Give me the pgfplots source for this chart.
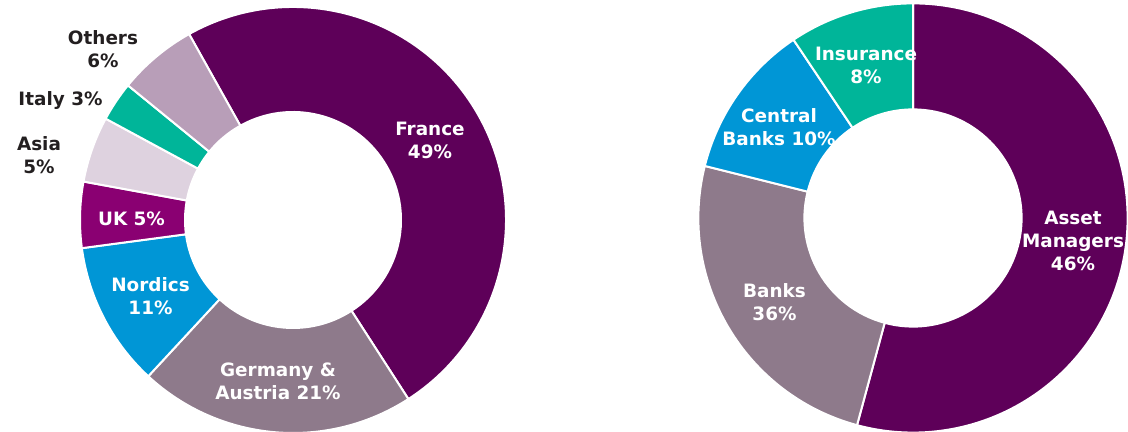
\documentclass[border=0pt]{standalone}
\usepackage{pgfplots}
\pgfplotsset{compat=1.18}
\usepackage{fontspec}
\setmainfont{DejaVu Sans}
\usetikzlibrary{calc}
\definecolor{cFrance}{RGB}{94,0,89}
\definecolor{cGerm}{RGB}{142,122,139}
\definecolor{cNord}{RGB}{0,150,214}
\definecolor{cUK}{RGB}{138,0,114}
\definecolor{cAsia}{RGB}{222,210,223}
\definecolor{cItaly}{RGB}{0,181,153}
\definecolor{cOther}{RGB}{184,158,184}
\definecolor{cText}{RGB}{35,31,32}
% donut: #1 centre coordinate, #2 outer radius, #3 inner radius,
% #4 start angle (clockwise from 12 o'clock), #5 list value/colour (percent)
\newcommand\donut[5]{%
  \pgfmathsetmacro\cur{90-#4}\xdef\cur{\cur}%
  \foreach \v/\c in {#5} {%
    \pgfmathsetmacro\nxt{\cur-\v*3.6}%
    \fill[\c, draw=white, line width=1pt]
      ($(#1)+(\cur:#2)$) arc[start angle=\cur, end angle=\nxt, radius=#2]
      -- ($(#1)+(\nxt:#3)$) arc[start angle=\nxt, end angle=\cur, radius=#3] -- cycle;
    \xdef\cur{\nxt}%
  }%
}
\begin{document}
\begin{tikzpicture}[font=\fontsize{9.2}{11.5}\selectfont\bfseries]
\begin{axis}[width=564pt, height=216pt, scale only axis, hide axis, clip=false,
  xmin=0, xmax=1128, ymin=0, ymax=432]
  \coordinate (L) at (axis cs:293,212);
  \coordinate (R) at (axis cs:913,214);
  \addplot[draw=none] coordinates {(0,0) (1128,432)};
\end{axis}
% left donut: France, Germany & Austria, Nordics, UK, Asia, Italy, Others
\donut{L}{106.5pt}{54pt}{330.8}{49/cFrance, 21/cGerm, 11/cNord, 5/cUK, 5/cAsia, 3/cItaly, 6/cOther}
% right donut: Asset Managers, Banks, Central Banks, Insurance
\donut{R}{107.3pt}{54.3pt}{0}{54.2/cFrance, 24.7/cGerm, 11.7/cNord, 9.4/cItaly}
\begin{axis}[width=564pt, height=216pt, scale only axis, hide axis, clip=false,
  xmin=0, xmax=1128, ymin=0, ymax=432]
  \addplot[draw=none] coordinates {(0,0) (1128,432)};
  \node[align=center, text=cText] at (axis cs:103,383) {Others\\6\%};
  \node[align=center, text=cText] at (axis cs:60.5,331) {Italy 3\%};
  \node[align=center, text=cText] at (axis cs:39,276.5) {Asia\\5\%};
  \node[align=center, text=white] at (axis cs:131.5,213) {UK 5\%};
  \node[align=center, text=white] at (axis cs:150.5,136) {Nordics\\11\%};
  \node[align=center, text=white] at (axis cs:278,51) {Germany \&\\Austria 21\%};
  \node[align=center, text=white] at (axis cs:430,291.5) {France\\49\%};
  \node[align=center, text=white] at (axis cs:866,367) {Insurance\\8\%};
  \node[align=center, text=white] at (axis cs:779,305) {Central\\Banks 10\%};
  \node[align=center, text=white] at (axis cs:774.5,130) {Banks\\36\%};
  \node[align=center, text=white] at (axis cs:1073,191) {Asset\\Managers\\46\%};
\end{axis}
\pgfresetboundingbox
\path (0,0) rectangle (564pt,216pt);
\end{tikzpicture}
\end{document}
